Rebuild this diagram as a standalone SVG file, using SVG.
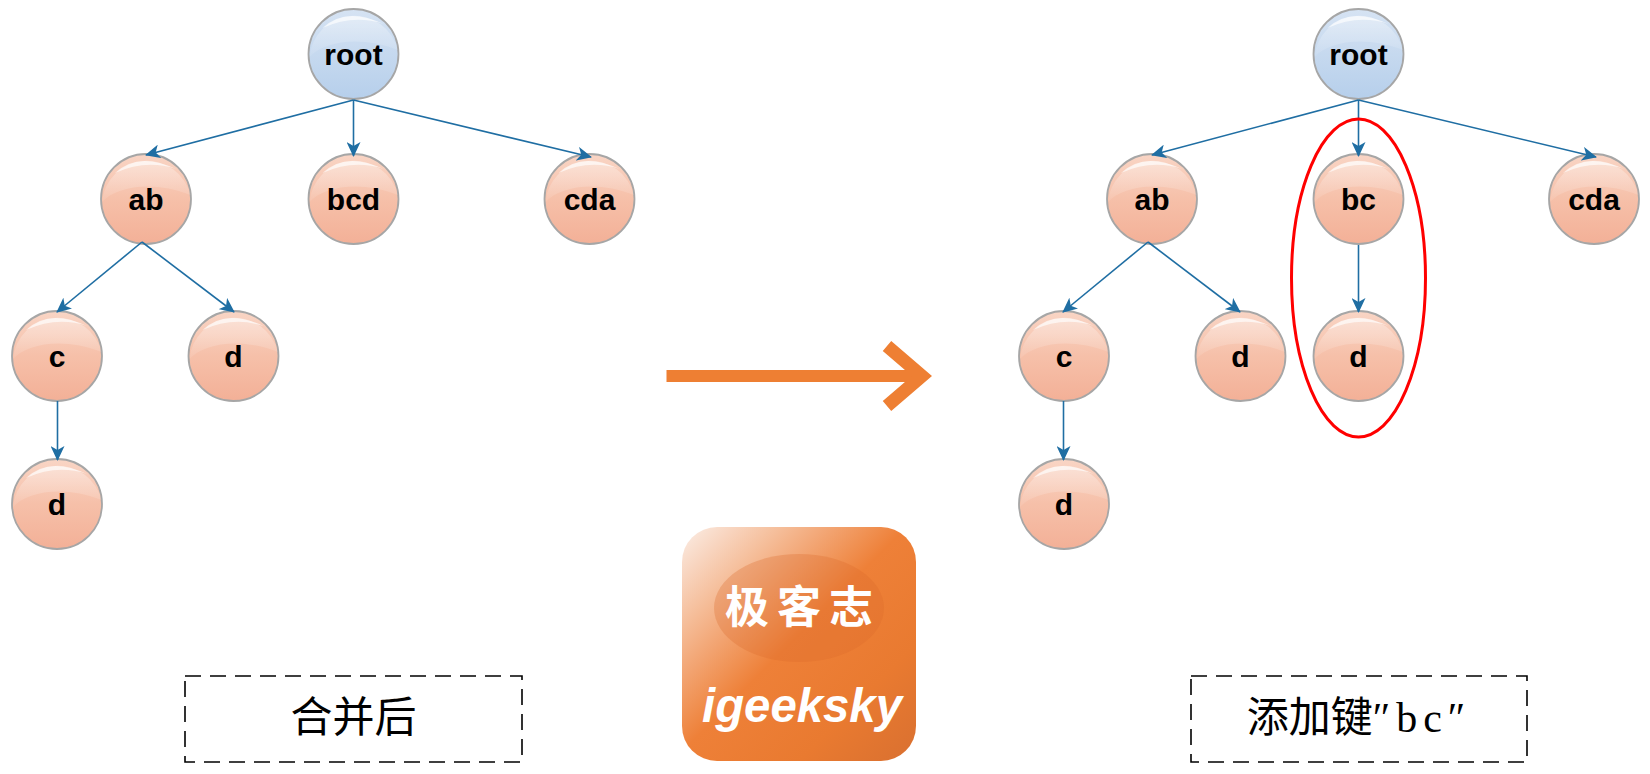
<svg xmlns="http://www.w3.org/2000/svg" width="1650" height="774" viewBox="0 0 1650 774">
<style>
.edge{fill:none;stroke:#1f6ea3;stroke-width:1.6;marker-end:url(#tip)}
.nt{font-family:"Liberation Sans",Arial,sans-serif;font-weight:700;font-size:30px;text-anchor:middle;fill:#000}
.root{font-size:30px}
.ball{stroke:#a6a6a6;stroke-width:1.800}
.cap{fill:none;stroke:#000;stroke-width:1.600;stroke-dasharray:16 9}
.capt{font-family:"Liberation Serif","Noto Sans CJK SC",serif;font-size:42px;fill:#000;text-anchor:middle}
</style>
<defs>
<marker id="tip" markerUnits="userSpaceOnUse" markerWidth="16" markerHeight="14" refX="14" refY="7" orient="auto"><path d="M0,0L15,7L0,14L4,7Z" fill="#1f6ea3"/></marker>
<linearGradient id="peach" x1="0" y1="0" x2="0" y2="1"><stop offset="0" stop-color="#f9d5c5"/><stop offset=".5" stop-color="#f6c0a9"/><stop offset="1" stop-color="#f3b097"/></linearGradient>
<linearGradient id="blue" x1="0" y1="0" x2="0" y2="1"><stop offset="0" stop-color="#d6e3f3"/><stop offset="1" stop-color="#b6cfeb"/></linearGradient>
<linearGradient id="sheen" x1="0" y1="0" x2="0" y2="1"><stop offset="0" stop-color="#fff" stop-opacity=".35"/><stop offset="1" stop-color="#fff" stop-opacity=".07"/></linearGradient>
<linearGradient id="logoG" x1="0" y1="0" x2="1" y2="1"><stop offset="0" stop-color="#fbeee7"/><stop offset=".48" stop-color="#ee8038"/><stop offset=".75" stop-color="#e97a30"/><stop offset="1" stop-color="#d97030"/></linearGradient>
<g id="gloss">
<path d="M-44,3C-30,-13 8,-19 44.500,-4A45,45 0 0 0 -44,3Z" fill="url(#sheen)"/>
<path d="M-31,-26Q-8,-48 30,-30Q0,-40 -31,-26Z" fill="#fff" opacity=".65"/>
</g>
</defs>
<rect width="1650" height="774" fill="#fff"/>
<g id="n-root-l" transform="translate(353.500,54)"><circle class="ball" r="45" fill="url(#blue)"/><use href="#gloss"/><text class="nt root" y="11">root</text></g>
<g id="n-ab-l" transform="translate(146,199)"><circle class="ball" r="45" fill="url(#peach)"/><use href="#gloss"/><text class="nt" y="11">ab</text></g>
<g id="n-bcd-l" transform="translate(353.500,199)"><circle class="ball" r="45" fill="url(#peach)"/><use href="#gloss"/><text class="nt" y="11">bcd</text></g>
<g id="n-cda-l" transform="translate(589.500,199)"><circle class="ball" r="45" fill="url(#peach)"/><use href="#gloss"/><text class="nt" y="11">cda</text></g>
<g id="n-c-l" transform="translate(57,356)"><circle class="ball" r="45" fill="url(#peach)"/><use href="#gloss"/><text class="nt" y="11">c</text></g>
<g id="n-d1-l" transform="translate(233.500,356)"><circle class="ball" r="45" fill="url(#peach)"/><use href="#gloss"/><text class="nt" y="11">d</text></g>
<g id="n-d2-l" transform="translate(57,504)"><circle class="ball" r="45" fill="url(#peach)"/><use href="#gloss"/><text class="nt" y="11">d</text></g>
<g id="n-root-r" transform="translate(1358.500,54)"><circle class="ball" r="45" fill="url(#blue)"/><use href="#gloss"/><text class="nt root" y="11">root</text></g>
<g id="n-ab-r" transform="translate(1152,199)"><circle class="ball" r="45" fill="url(#peach)"/><use href="#gloss"/><text class="nt" y="11">ab</text></g>
<g id="n-bc-r" transform="translate(1358.500,199)"><circle class="ball" r="45" fill="url(#peach)"/><use href="#gloss"/><text class="nt" y="11">bc</text></g>
<g id="n-cda-r" transform="translate(1594,199)"><circle class="ball" r="45" fill="url(#peach)"/><use href="#gloss"/><text class="nt" y="11">cda</text></g>
<g id="n-c-r" transform="translate(1064,356)"><circle class="ball" r="45" fill="url(#peach)"/><use href="#gloss"/><text class="nt" y="11">c</text></g>
<g id="n-d1-r" transform="translate(1240.500,356)"><circle class="ball" r="45" fill="url(#peach)"/><use href="#gloss"/><text class="nt" y="11">d</text></g>
<g id="n-d3-r" transform="translate(1358.500,356)"><circle class="ball" r="45" fill="url(#peach)"/><use href="#gloss"/><text class="nt" y="11">d</text></g>
<g id="n-d2-r" transform="translate(1064,504)"><circle class="ball" r="45" fill="url(#peach)"/><use href="#gloss"/><text class="nt" y="11">d</text></g>
<g id="connectors">
<path class="edge" d="M353.500,100L146,155"/>
<path class="edge" d="M353.500,100V156"/>
<path class="edge" d="M353.500,100L591,157"/>
<path class="edge" d="M142,242L57,312"/>
<path class="edge" d="M142,242L234,312"/>
<path class="edge" d="M57.500,401V460"/>
<path class="edge" d="M1358.500,100L1152,155"/>
<path class="edge" d="M1358.500,100V156"/>
<path class="edge" d="M1358.500,100L1596,157"/>
<path class="edge" d="M1148,242L1063,312"/>
<path class="edge" d="M1148,242L1240,312"/>
<path class="edge" d="M1358.500,245V312"/>
<path class="edge" d="M1063.500,401V460"/>
</g>
<ellipse id="highlight" cx="1358.500" cy="278" rx="67" ry="159" fill="none" stroke="#f00" stroke-width="3"/>
<g id="big-arrow"><path d="M666.500,376H921" fill="none" stroke="#ee7f33" stroke-width="12"/><path d="M887,346L922,376L887,406" fill="none" stroke="#ee7f33" stroke-width="13"/></g>
<g id="logo">
<rect x="682" y="527" width="234" height="234" rx="35" fill="url(#logoG)"/>
<ellipse cx="799" cy="608" rx="85" ry="54" fill="#d96a2a" opacity=".3"/>
<text x="803" y="623" font-family="'Noto Sans CJK SC',sans-serif" font-weight="700" font-size="44" fill="#fff" text-anchor="middle" letter-spacing="8">极客志</text>
<text x="702" y="722" font-family="'Liberation Sans',Arial,sans-serif" font-weight="700" font-style="italic" font-size="48" fill="#fff" textLength="200" lengthAdjust="spacingAndGlyphs">igeeksky</text>
</g>
<g id="cap-l"><rect class="cap" x="185" y="676" width="337" height="86"/><text class="capt" x="353.500" y="732">合并后</text></g>
<g id="cap-r"><rect class="cap" x="1191" y="676" width="336" height="86"/><text class="capt" x="1359" y="732">添加键<tspan letter-spacing="6">″bc″</tspan></text></g>
</svg>
